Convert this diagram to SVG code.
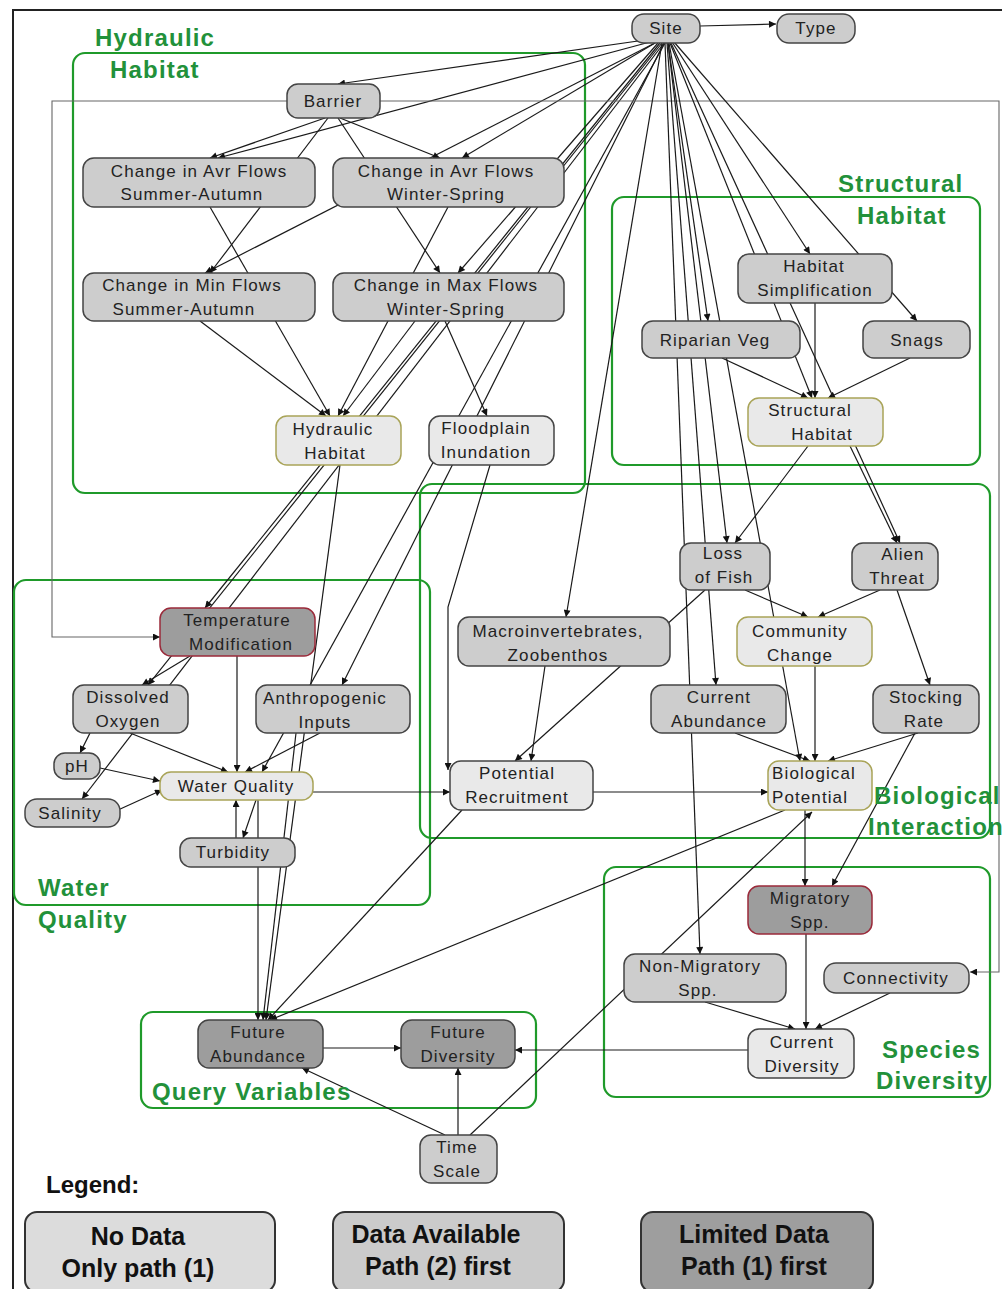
<svg xmlns="http://www.w3.org/2000/svg" width="1002" height="1289" viewBox="0 0 1002 1289">
<defs>
<marker id="ah" viewBox="0 0 10 10" refX="10" refY="5" markerWidth="10" markerHeight="7" markerUnits="userSpaceOnUse" orient="auto"><path d="M0,0 L10,5 L0,10 z" fill="#111"/></marker>
<style>
.grp{fill:none;stroke:#1f9a2a;stroke-width:2.2}
.gl{font-family:"Liberation Sans",Arial,sans-serif;font-weight:bold;font-size:24px;fill:#22913a;letter-spacing:1.2px}
.c{fill:none;stroke:#1a1a1a;stroke-width:1.2;marker-end:url(#ah)}
.cg{fill:none;stroke:#666;stroke-width:1.1;marker-end:url(#ah)}
.n rect{stroke:#444;stroke-width:1.5}
.m rect{fill:#cdcdcd}
.l rect{fill:#e9e9e9}
.ly rect{fill:#e9e9e9;stroke:#a9a458}
.d rect{fill:#9d9d9d}
.dr rect{fill:#9d9d9d;stroke:#9a2a3a}
.n text{font-family:"Liberation Sans",Arial,sans-serif;font-size:17px;fill:#222;text-anchor:middle;letter-spacing:1.1px}
.lg rect{stroke:#333;stroke-width:2}
.lg text{font-family:"Liberation Sans",Arial,sans-serif;font-weight:bold;font-size:25px;fill:#111;text-anchor:middle}
</style>
</defs>
<rect x="0" y="0" width="1002" height="1289" fill="#fff"/>
<rect x="13" y="10" width="1010" height="1300" fill="none" stroke="#222" stroke-width="2"/>

<g id="groups">
<rect class="grp" x="73" y="53" width="512" height="440" rx="12"/>
<rect class="grp" x="612" y="197" width="368" height="268" rx="12"/>
<rect class="grp" x="420" y="484" width="570" height="354" rx="12"/>
<rect class="grp" x="14" y="580" width="416" height="325" rx="12"/>
<rect class="grp" x="604" y="867" width="386" height="230" rx="12"/>
<rect class="grp" x="141" y="1012" width="395" height="96" rx="12"/>
</g>

<g id="connectors">
<path class="c" d="M700,26 L776,24"/>
<path class="c" d="M645,40 L338,84"/>
<path class="c" d="M650,42 L218,158"/>
<path class="c" d="M655,43 L462,158"/>
<path class="c" d="M655,43 L205,273"/>
<path class="c" d="M658,43 L458,273"/>
<path class="c" d="M325,118 L210,158"/>
<path class="c" d="M340,118 L440,158"/>
<path class="c" d="M328,118 L210,273"/>
<path class="c" d="M338,118 L440,273"/>
<path class="c" d="M210,207 L330,416"/>
<path class="c" d="M448,207 L338,416"/>
<path class="c" d="M200,321 L326,416"/>
<path class="c" d="M415,321 L343,416"/>
<path class="c" d="M445,321 L487,416"/>
<path class="c" d="M660,43 L205,608"/>
<path class="c" d="M662,43 L148,685"/>
<path class="c" d="M664,43 L342,685"/>
<path class="c" d="M665,43 L262,772"/>
<path class="c" d="M664,43 L82,799"/>
<path class="c" d="M340,465 L266,1020"/>
<path class="c" d="M490,465 L448,607 L448,770"/>
<path class="cg" d="M287,101 L52,101 L52,637 L160,637"/>
<path class="cg" d="M380,101 L999,101 L999,972 L970,972"/>
<path class="c" d="M668,43 L708,321"/>
<path class="c" d="M672,42 L810,254"/>
<path class="c" d="M674,42 L917,321"/>
<path class="c" d="M670,43 L812,398"/>
<path class="c" d="M722,358 L808,398"/>
<path class="c" d="M815,303 L815,398"/>
<path class="c" d="M910,358 L828,398"/>
<path class="c" d="M671,43 L900,543"/>
<path class="c" d="M668,43 L727,543"/>
<path class="c" d="M667,43 L716,685"/>
<path class="c" d="M665,43 L700,954"/>
<path class="c" d="M669,43 L800,761"/>
<path class="c" d="M662,43 L566,617"/>
<path class="c" d="M808,446 L735,543"/>
<path class="c" d="M850,446 L897,543"/>
<path class="c" d="M745,590 L808,617"/>
<path class="c" d="M880,590 L818,617"/>
<path class="c" d="M705,590 L515,761"/>
<path class="c" d="M545,666 L531,761"/>
<path class="c" d="M897,590 L930,685"/>
<path class="c" d="M815,666 L815,761"/>
<path class="c" d="M735,733 L810,761"/>
<path class="c" d="M918,733 L828,761"/>
<path class="c" d="M593,792 L768,792"/>
<path class="c" d="M313,792 L450,792"/>
<path class="c" d="M190,656 L142,685"/>
<path class="c" d="M237,656 L237,772"/>
<path class="c" d="M130,733 L228,772"/>
<path class="c" d="M320,733 L245,772"/>
<path class="c" d="M90,733 L80,753"/>
<path class="c" d="M100,768 L160,781"/>
<path class="c" d="M118,810 L162,790"/>
<path class="c" d="M256,800 L243,838"/>
<path class="c" d="M236,838 L236,800"/>
<path class="c" d="M258,800 L258,1020"/>
<path class="c" d="M296,733 L263,1020"/>
<path class="c" d="M805,810 L805,886"/>
<path class="c" d="M915,733 L832,886"/>
<path class="c" d="M705,1002 L795,1029"/>
<path class="c" d="M806,934 L806,1029"/>
<path class="c" d="M890,993 L815,1029"/>
<path class="c" d="M748,1050 L515,1050"/>
<path class="c" d="M323,1048 L401,1048"/>
<path class="c" d="M458,1135 L458,1068"/>
<path class="c" d="M445,1135 L302,1068"/>
<path class="c" d="M470,1135 L812,812"/>
<path class="c" d="M785,810 L270,1020"/>
<path class="c" d="M462,810 L268,1020"/>
</g>

<g id="site" class="n m"><rect x="632" y="14" width="68" height="29" rx="12"/><text x="666" y="34">Site</text></g>
<g id="type" class="n m"><rect x="777" y="14" width="78" height="29" rx="12"/><text x="816" y="34">Type</text></g>
<g id="barrier" class="n m"><rect x="287" y="84" width="93" height="34" rx="11"/><text x="333" y="107">Barrier</text></g>
<g id="cafsa" class="n m"><rect x="83" y="158" width="232" height="49" rx="11"/><text x="199" y="177">Change in Avr Flows</text><text x="192" y="200">Summer-Autumn</text></g>
<g id="cafws" class="n m"><rect x="333" y="158" width="231" height="49" rx="11"/><text x="446" y="177">Change in Avr Flows</text><text x="446" y="200">Winter-Spring</text></g>
<g id="cminf" class="n m"><rect x="83" y="273" width="232" height="48" rx="11"/><text x="192" y="291">Change in Min Flows</text><text x="184" y="315">Summer-Autumn</text></g>
<g id="cmaxf" class="n m"><rect x="333" y="273" width="231" height="48" rx="11"/><text x="446" y="291">Change in Max Flows</text><text x="446" y="315">Winter-Spring</text></g>
<g id="hh" class="n ly"><rect x="276" y="416" width="125" height="49" rx="11"/><text x="333" y="435">Hydraulic</text><text x="335" y="459">Habitat</text></g>
<g id="fi" class="n l"><rect x="429" y="416" width="125" height="49" rx="11"/><text x="486" y="434">Floodplain</text><text x="486" y="458">Inundation</text></g>
<g id="hs" class="n m"><rect x="738" y="254" width="154" height="49" rx="11"/><text x="814" y="272">Habitat</text><text x="815" y="296">Simplification</text></g>
<g id="rv" class="n m"><rect x="642" y="321" width="158" height="37" rx="11"/><text x="715" y="346">Riparian Veg</text></g>
<g id="snags" class="n m"><rect x="863" y="321" width="107" height="37" rx="11"/><text x="917" y="346">Snags</text></g>
<g id="sh" class="n ly"><rect x="748" y="398" width="135" height="48" rx="11"/><text x="810" y="416">Structural</text><text x="822" y="440">Habitat</text></g>
<g id="lof" class="n m"><rect x="680" y="543" width="90" height="47" rx="11"/><text x="723" y="559">Loss</text><text x="724" y="583">of Fish</text></g>
<g id="at" class="n m"><rect x="852" y="543" width="86" height="47" rx="11"/><text x="903" y="560">Alien</text><text x="897" y="584">Threat</text></g>
<g id="mz" class="n m"><rect x="458" y="617" width="212" height="49" rx="11"/><text x="558" y="637">Macroinvertebrates,</text><text x="558" y="661">Zoobenthos</text></g>
<g id="cc" class="n ly"><rect x="737" y="617" width="135" height="49" rx="11"/><text x="800" y="637">Community</text><text x="800" y="661">Change</text></g>
<g id="ca" class="n m"><rect x="651" y="685" width="135" height="48" rx="11"/><text x="719" y="703">Current</text><text x="719" y="727">Abundance</text></g>
<g id="sr" class="n m"><rect x="873" y="685" width="106" height="48" rx="11"/><text x="926" y="703">Stocking</text><text x="924" y="727">Rate</text></g>
<g id="pr" class="n l"><rect x="450" y="761" width="143" height="49" rx="11"/><text x="517" y="779">Potential</text><text x="517" y="803">Recruitment</text></g>
<g id="bp" class="n ly"><rect x="768" y="761" width="104" height="49" rx="11"/><text x="814" y="779">Biological</text><text x="810" y="803">Potential</text></g>
<g id="tm" class="n dr"><rect x="160" y="608" width="155" height="48" rx="11"/><text x="237" y="626">Temperature</text><text x="241" y="650">Modification</text></g>
<g id="do" class="n m"><rect x="73" y="685" width="115" height="48" rx="11"/><text x="128" y="703">Dissolved</text><text x="128" y="727">Oxygen</text></g>
<g id="ai" class="n m"><rect x="256" y="685" width="154" height="48" rx="11"/><text x="325" y="704">Anthropogenic</text><text x="325" y="728">Inputs</text></g>
<g id="ph" class="n m"><rect x="54" y="753" width="46" height="26" rx="11"/><text x="77" y="772">pH</text></g>
<g id="wq" class="n ly"><rect x="160" y="772" width="153" height="28" rx="11"/><text x="236" y="792">Water Quality</text></g>
<g id="sal" class="n m"><rect x="25" y="799" width="95" height="28" rx="12"/><text x="70" y="819">Salinity</text></g>
<g id="turb" class="n m"><rect x="180" y="838" width="115" height="29" rx="11"/><text x="233" y="858">Turbidity</text></g>
<g id="ms" class="n dr"><rect x="748" y="886" width="124" height="48" rx="11"/><text x="810" y="904">Migratory</text><text x="810" y="928">Spp.</text></g>
<g id="nms" class="n m"><rect x="624" y="954" width="162" height="48" rx="11"/><text x="700" y="972">Non-Migratory</text><text x="698" y="996">Spp.</text></g>
<g id="conn" class="n m"><rect x="824" y="963" width="145" height="30" rx="12"/><text x="896" y="984">Connectivity</text></g>
<g id="cd" class="n l"><rect x="748" y="1029" width="106" height="49" rx="11"/><text x="802" y="1048">Current</text><text x="802" y="1072">Diversity</text></g>
<g id="fa" class="n d"><rect x="198" y="1020" width="125" height="48" rx="11"/><text x="258" y="1038">Future</text><text x="258" y="1062">Abundance</text></g>
<g id="fd" class="n d"><rect x="401" y="1020" width="114" height="48" rx="11"/><text x="458" y="1038">Future</text><text x="458" y="1062">Diversity</text></g>
<g id="ts" class="n m"><rect x="420" y="1135" width="77" height="48" rx="11"/><text x="457" y="1153">Time</text><text x="457" y="1177">Scale</text></g>

<g id="group-labels" class="gl">
<text x="95" y="46">Hydraulic</text>
<text x="110" y="78">Habitat</text>
<text x="838" y="192">Structural</text>
<text x="857" y="224">Habitat</text>
<text x="874" y="804">Biological</text>
<text x="868" y="835">Interaction</text>
<text x="38" y="896">Water</text>
<text x="38" y="928">Quality</text>
<text x="882" y="1058">Species</text>
<text x="876" y="1089">Diversity</text>
<text x="152" y="1100">Query Variables</text>
</g>

<g id="legend" class="lg">
<text x="46" y="1193" style="text-anchor:start;font-size:24px">Legend:</text>
<rect x="25" y="1212" width="250" height="80" rx="12" fill="#dcdcdc"/>
<text x="138" y="1245">No Data</text><text x="138" y="1277">Only path (1)</text>
<rect x="333" y="1212" width="231" height="80" rx="12" fill="#cbcbcb"/>
<text x="436" y="1243">Data Available</text><text x="438" y="1275">Path (2) first</text>
<rect x="641" y="1212" width="232" height="80" rx="12" fill="#9e9e9e"/>
<text x="754" y="1243">Limited Data</text><text x="754" y="1275">Path (1) first</text>
</g>
</svg>
